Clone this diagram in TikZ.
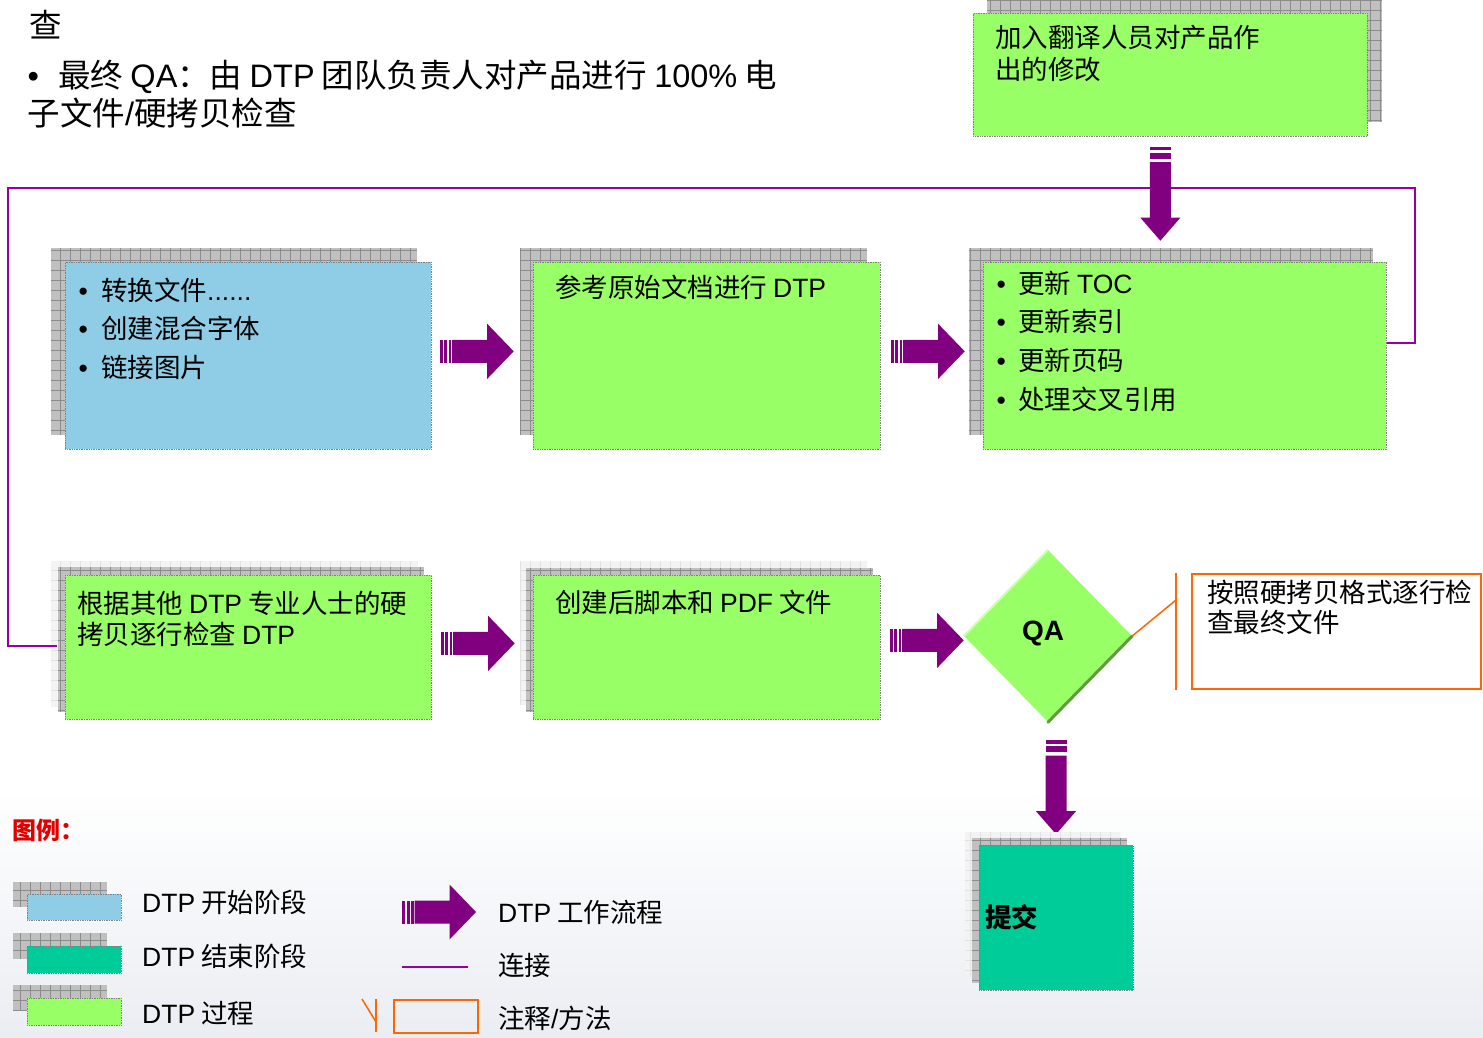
\documentclass[tikz,border=0pt]{standalone}
\usepackage{fontspec}
\setmainfont{Noto Sans CJK SC}
\newfontfamily\lat{Liberation Sans}
\newcommand\latn[1]{{\lat #1}}
\usetikzlibrary{calc,shapes.geometric}
\definecolor{boxgreen}{RGB}{153,255,102}
\definecolor{boxblue}{RGB}{143,205,230}
\definecolor{boxteal}{RGB}{0,204,153}
\definecolor{flowpurple}{RGB}{128,0,128}
\definecolor{connpurple}{RGB}{153,0,153}
\definecolor{noteorange}{RGB}{255,102,0}
\definecolor{shfill}{RGB}{192,192,192}
\definecolor{shline}{RGB}{140,140,140}
\definecolor{lshfill}{RGB}{243,243,243}
\definecolor{lshline}{RGB}{226,226,226}
\definecolor{dkgreen}{RGB}{95,155,60}
\definecolor{ltgreen}{RGB}{205,255,175}
\definecolor{legred}{RGB}{225,0,0}
\newcommand\gshadow[4]{%
  \fill[shfill] (#1,#2) rectangle (#3,#4);
  \begin{scope}
    \clip (#1,#2) rectangle (#3,#4);
    \draw[shline, line width=0.6pt, step=10pt] (#1,#4) grid (#3,#2);
  \end{scope}}
\newcommand\lshadow[4]{%
  \fill[lshfill] (#1,#2) rectangle (#3,#4);
  \begin{scope}
    \clip (#1,#2) rectangle (#3,#4);
    \draw[lshline, line width=0.6pt, step=10pt] (#1,#4) grid (#3,#2);
  \end{scope}}
\tikzset{
  pbox/.style={rectangle, draw=gray, densely dotted, line width=0.7pt, inner sep=0pt, anchor=north west},
  txt/.style={inner sep=0pt, anchor=base west, font=\fontsize{26.5pt}{38.5pt}\selectfont},
  txtb/.style={inner sep=0pt, anchor=base west, font=\fontsize{26.5pt}{31.5pt}\selectfont},
  conn/.style={draw=connpurple, line width=1.8pt},
  note/.style={draw=noteorange, line width=1.5pt},
  rfat/.pic={
    \fill[flowpurple] (0,-11.5) rectangle (3,11.5);
    \fill[flowpurple] (4.5,-11.5) rectangle (7.5,11.5);
    \fill[flowpurple] (9,-11.5) rectangle (11.5,11.5);
    \fill[flowpurple] (12.5,-11.5) -- (47.5,-11.5) -- (47.5,-27.5) -- (74,0)
      -- (47.5,27.5) -- (47.5,11.5) -- (12.5,11.5) -- cycle;
  },
  dfat/.pic={
    \fill[flowpurple] (-10.5,0) rectangle (10.5,3.5);
    \fill[flowpurple] (-10.5,6) rectangle (10.5,12);
    \fill[flowpurple] (-10.5,15.5) -- (10.5,15.5) -- (10.5,71) -- (20,71)
      -- (0,94) -- (-20,71) -- (-10.5,71) -- cycle;
  }
}
\begin{document}
\begin{tikzpicture}[x=1pt,y=-1pt]
\useasboundingbox (0,0) rectangle (1483,1038);
\clip (0,0) rectangle (1483,1038);
\fill[white] (0,0) rectangle (1483,1038);
\shade[top color=white, bottom color={rgb,255:red,234;green,237;blue,242}] (0,790) rectangle (1483,1038);

% ---- top text
\node[inner sep=0pt, anchor=base west, font=\fontsize{32.5pt}{38pt}\selectfont] (t0) at (29,38) {查};
\node[inner sep=0pt, anchor=base west, font=\fontsize{32.5pt}{38pt}\selectfont] (t1) at (27.5,88)
  {\parbox[t]{800pt}{\makebox[30.5pt][l]{\lat•}最终 \latn{QA}：由 \latn{DTP} 团队负责人对产品进行 \latn{100\%} 电\\子文件\latn{/}硬拷贝检查}};

% ---- connector bend points
\coordinate (c1) at (1415,188);
\coordinate (c2) at (8,646);

% ---- top right box
\gshadow{987}{-13}{1382}{122}
\node[pbox, fill=boxgreen, minimum width=394pt, minimum height=123pt] (tb) at (973,13) {};
\node[txtb, font=\fontsize{26.5pt}{32pt}\selectfont] (tbt) at (995,48)
  {\parbox[t]{360pt}{加入翻译人员对产品作\\出的修改}};

% ---- row 1
\gshadow{51}{248}{417}{435}
\node[pbox, fill=boxblue, minimum width=366pt, minimum height=187pt] (b1) at (65,262) {};
\gshadow{520}{248}{867}{435}
\node[pbox, fill=boxgreen, minimum width=347pt, minimum height=187pt] (b2) at (533,262) {};
\gshadow{969}{248}{1373}{435}
\node[pbox, fill=boxgreen, minimum width=403pt, minimum height=187pt] (b3) at (983,262) {};

% ---- row 2 boxes
\lshadow{51}{561}{418}{707}
\gshadow{58}{567}{424}{712}
\node[pbox, fill=boxgreen, minimum width=366pt, minimum height=144pt] (b4) at (65,575) {};
\lshadow{520}{561}{867}{705}
\gshadow{526}{568}{873}{712}
\node[pbox, fill=boxgreen, minimum width=347pt, minimum height=144pt] (b5) at (533,575) {};

\draw[conn] ([yshift=12.5pt]b3.east) -| (c1) -| (c2) -- ([xshift=-8pt]b4.west |- c2);

\node[txt] (b1t) at (78.5,300)
  {\parbox[t]{340pt}{\makebox[22.5pt][l]{\lat•}转换文件\latn{......}\\\makebox[22.5pt][l]{\lat•}创建混合字体\\\makebox[22.5pt][l]{\lat•}链接图片}};
\node[txt] (b2t) at (555,297) {参考原始文档进行 \latn{DTP}};
\node[txt, font=\fontsize{26.5pt}{38.7pt}\selectfont] (b3t) at (996.5,293)
  {\parbox[t]{370pt}{\makebox[21.5pt][l]{\lat•}更新 \latn{TOC}\\\makebox[21.5pt][l]{\lat•}更新索引\\\makebox[21.5pt][l]{\lat•}更新页码\\\makebox[21.5pt][l]{\lat•}处理交叉引用}};

\pic at ($(b1.east)+(8,-4.5)$) {rfat};
\pic at ($(b2.east)+(10,-4.5)$) {rfat};
\pic at ($(tb.south)+(-10,10)$) {dfat};

\node[txtb, font=\fontsize{26.5pt}{31pt}\selectfont] (b4t) at (77,613)
  {\parbox[t]{350pt}{根据其他 \latn{DTP} 专业人士的硬\\拷贝逐行检查 \latn{DTP}}};
\node[txt] (b5t) at (555,612) {创建后脚本和 \latn{PDF} 文件};

\pic at ($(b4.east)+(9,-4)$) {rfat};
\pic at ($(b5.east)+(9,-7)$) {rfat};

% ---- QA diamond
\node[diamond, aspect=1, fill=boxgreen, minimum width=168pt, minimum height=172pt, inner sep=0pt] (qa) at (1048,636) {};
\draw[ltgreen, line width=2pt] (qa.west) -- (qa.north);
\draw[dkgreen, line width=3pt, line cap=round] (qa.east) -- (qa.south);
\node[inner sep=0pt, font=\lat\bfseries\fontsize{28pt}{30pt}\selectfont] (qat) at (1043,633) {QA};

% ---- annotation
\node[rectangle, draw=noteorange, line width=1.5pt, inner sep=0pt, anchor=north west,
      minimum width=289pt, minimum height=115pt] (ann) at (1191,573) {};
\coordinate (annk) at (1176,600);
\draw[note] (qa.east) -- (annk);
\draw[note] ($(ann.north west)+(-15,0)$) -- ($(ann.south west)+(-15,0)$);
\node[txtb, font=\fontsize{26.5pt}{30pt}\selectfont] (annt) at (1207,602)
  {\parbox[t]{270pt}{按照硬拷贝格式逐行检\\查最终文件}};

% ---- submit
\pic at ($(qa.south)+(8,18)$) {dfat};
\lshadow{965}{832}{1120}{977}
\gshadow{972}{838}{1127}{983}
\node[pbox, fill=boxteal, minimum width=154pt, minimum height=145pt] (sub) at (979,845) {};
\node[txt, font=\bfseries\fontsize{26.5pt}{30pt}\selectfont] (subt) at (985,927) {提交};

% ---- legend
\node[inner sep=0pt, anchor=base west, text=legred, font=\bfseries\fontsize{24pt}{28pt}\selectfont] (legt) at (12,839) {图例：};

\gshadow{13}{882}{107}{907}
\node[pbox, fill=boxblue, minimum width=94pt, minimum height=26pt] (lg1) at (27,894) {};
\node[txt] (lg1t) at (142,912) {\latn{DTP} 开始阶段};
\gshadow{13}{933}{107}{959}
\node[pbox, fill=boxteal, minimum width=94pt, minimum height=27pt] (lg2) at (27,946) {};
\node[txt] (lg2t) at (142,966) {\latn{DTP} 结束阶段};
\gshadow{13}{985}{107}{1011}
\node[pbox, fill=boxgreen, minimum width=94pt, minimum height=27pt] (lg3) at (27,998) {};
\node[txt] (lg3t) at (142,1023) {\latn{DTP} 过程};

\pic at (402,912) {rfat};
\node[txt] (lg4t) at (498,922) {\latn{DTP} 工作流程};
\coordinate (lca) at (402,967);
\coordinate (lcb) at (468,967);
\draw[conn, line width=1.5pt] (lca) -- (lcb);
\node[txt] (lg5t) at (498,975) {连接};
\node[rectangle, draw=noteorange, line width=1.5pt, inner sep=0pt, anchor=north west,
      minimum width=84pt, minimum height=33pt] (lg6) at (393,999) {};
\coordinate (lna) at (362,999);
\coordinate (lnb) at (376,1022);
\coordinate (lnc) at (376,999);
\coordinate (lnd) at (376,1032);
\draw[note] (lna) -- (lnb);
\draw[note] (lnc) -- (lnd);
\node[txt] (lg6t) at (498,1028) {注释\latn{/}方法};
\end{tikzpicture}
\end{document}
